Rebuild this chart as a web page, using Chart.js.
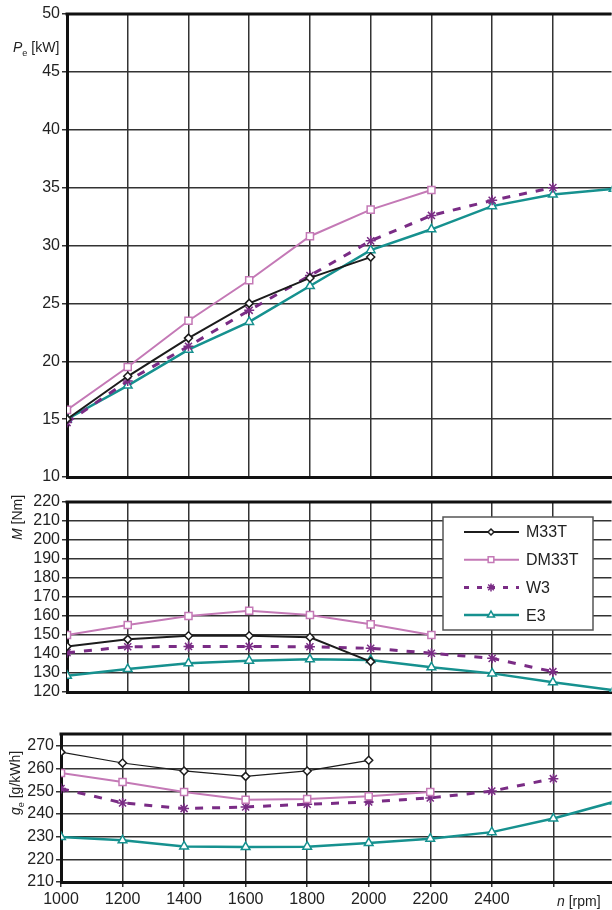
<!DOCTYPE html>
<html>
<head>
<meta charset="utf-8">
<script src="https://cdn.jsdelivr.net/npm/chart.js@4.4.0/dist/chart.umd.min.js"></script>
<style>
  body { margin: 0; background: #fff; }
  #wrap { position: relative; width: 612px; height: 910px; overflow: hidden; }
  canvas { position: absolute; left: 0; }
</style>
</head>
<body>
<div id="wrap">
  <canvas id="power" width="618" height="490" style="top:0"></canvas>
  <canvas id="torque" width="618" height="220" style="top:490px"></canvas>
  <canvas id="fuel" width="618" height="200" style="top:710px"></canvas>
</div>
<script>
// engine speed n [rpm]
const rpm = [1000, 1200, 1400, 1600, 1800, 2000, 2200, 2400, 2600, 2800];
const rpmTicks = [1000, 1200, 1400, 1600, 1800, 2000, 2200, 2400, 2600];
const names = ['M33T', 'DM33T', 'W3', 'E3'];

// effective power Pe [kW]
const peTicks = [10, 15, 20, 25, 30, 35, 40, 45, 50];
const peM33T  = [15.0, 18.7, 22.0, 25.0, 27.2, 29.0];
const peDM33T = [15.8, 19.5, 23.5, 27.0, 30.8, 33.1, 34.8];
const peW3    = [14.7, 18.3, 21.3, 24.4, 27.4, 30.4, 32.6, 33.9, 35.0];
const peE3    = [15.0, 17.9, 21.0, 23.4, 26.5, 29.6, 31.4, 33.4, 34.4, 34.9];

// torque M [Nm]
const mTicks = [120, 130, 140, 150, 160, 170, 180, 190, 200, 210, 220];
const mM33T  = [144.0, 147.7, 149.6, 149.6, 148.8, 136.0];
const mDM33T = [150.0, 155.3, 160.0, 162.8, 160.5, 155.6, 150.0];
const mW3    = [140.7, 143.8, 144.0, 144.0, 143.8, 143.0, 140.4, 137.7, 130.7];
const mE3    = [128.6, 132.1, 135.1, 136.5, 137.2, 136.8, 133.0, 129.8, 125.1, 121.0];

// specific fuel consumption ge [g/kWh]
const gTicks = [210, 220, 230, 240, 250, 260, 270];
const gM33T  = [267.3, 262.5, 259.0, 256.6, 259.0, 263.7];
const gDM33T = [258.1, 254.1, 249.7, 246.3, 246.6, 247.8, 249.7];
const gW3    = [251.2, 244.9, 242.4, 243.1, 244.3, 245.3, 247.1, 250.1, 255.6];
const gE3    = [229.9, 228.4, 225.7, 225.4, 225.6, 227.2, 229.1, 232.0, 238.0, 245.5];

const styles = [
  { color: '#1c1c1c', pointStyle: 'rectRot', radius: 4, width: 2, dash: [] },
  { color: '#c479b6', pointStyle: 'rect', radius: 5, width: 2, dash: [] },
  { color: '#7a2c85', pointStyle: 'star', radius: 5, width: 3, dash: [8, 9] },
  { color: '#16918f', pointStyle: 'triangle', radius: 5, width: 2.5, dash: [] }
];

const font = 'Liberation Sans, Arial, sans-serif';

function series(values, i, lineWidth) {
  const s = styles[i];
  return {
    label: names[i],
    data: values.map((v, k) => ({ x: rpm[k], y: v })),
    borderColor: s.color,
    borderWidth: lineWidth || s.width,
    borderDash: s.dash,
    pointStyle: s.pointStyle,
    pointRadius: s.radius,
    pointBorderWidth: 1.5,
    pointBorderColor: s.color,
    pointBackgroundColor: '#fff',
    tension: 0
  };
}

// draws a text made of parts (italic / subscript), optionally rotated
function drawParts(ctx, x, y, rot, size, parts) {
  ctx.save();
  ctx.translate(x, y);
  ctx.rotate(rot);
  ctx.fillStyle = '#222';
  ctx.textBaseline = 'alphabetic';
  ctx.textAlign = 'left';
  let cx = 0;
  parts.forEach(p => {
    const fs = p.sub ? size * 0.65 : size;
    ctx.font = (p.italic ? 'italic ' : '') + fs + 'px ' + font;
    ctx.fillText(p.t, cx, p.sub ? size * 0.25 : 0);
    cx += ctx.measureText(p.t).width;
  });
  ctx.restore();
}

function framePlugin(titleFn) {
  return {
    id: 'frame',
    afterDraw(chart) {
      const ctx = chart.ctx, a = chart.chartArea;
      ctx.save();
      ctx.strokeStyle = '#111';
      ctx.lineWidth = 3;
      ctx.beginPath();
      ctx.moveTo(a.left - 1.5, a.top);
      ctx.lineTo(a.right, a.top);
      ctx.stroke();
      ctx.restore();
      titleFn(ctx, chart);
    }
  };
}

const legendPlugin = {
  id: 'boxLegend',
  afterDraw(chart) {
    const ctx = chart.ctx;
    const top = 517 - 490;
    ctx.save();
    ctx.fillStyle = '#fff';
    ctx.fillRect(443, top, 150, 113);
    ctx.strokeStyle = '#555';
    ctx.lineWidth = 1.5;
    ctx.strokeRect(443, top, 150, 113);
    chart.data.datasets.forEach((ds, i) => {
      const y = top + 15 + i * 27.7;
      ctx.strokeStyle = ds.borderColor;
      ctx.lineWidth = ds.borderWidth;
      ctx.setLineDash(i === 2 ? [5, 8] : []);
      ctx.beginPath();
      ctx.moveTo(464, y);
      ctx.lineTo(519, y);
      ctx.stroke();
      ctx.setLineDash([]);
      ctx.fillStyle = '#fff';
      ctx.strokeStyle = ds.borderColor;
      ctx.lineWidth = 1.5;
      Chart.helpers.drawPoint(ctx, { pointStyle: ds.pointStyle, radius: ds.pointRadius - 1, rotation: 0, borderWidth: 1.5 }, 491, y);
      ctx.fillStyle = '#222';
      ctx.font = '16px ' + font;
      ctx.textBaseline = 'middle';
      ctx.fillText(ds.label, 526, y + 1);
    });
    ctx.restore();
  }
};

function makeChart(id, cfg) {
  return new Chart(document.getElementById(id), {
    type: 'line',
    data: { datasets: cfg.datasets },
    options: {
      responsive: false,
      animation: false,
      devicePixelRatio: 1,
      layout: { padding: { top: cfg.padTop, bottom: cfg.padBottom, left: 0, right: 0 } },
      plugins: { legend: { display: false }, tooltip: { enabled: false } },
      scales: {
        x: {
          type: 'linear',
          min: 1000,
          max: cfg.xMax,
          afterBuildTicks: s => { s.ticks = rpmTicks.map(v => ({ value: v })); },
          afterFit: s => { s.height = cfg.xHeight; },
          border: { display: true, width: 3, color: '#111' },
          grid: { color: '#333', lineWidth: 1.5, drawTicks: cfg.showX, tickLength: 5, tickColor: '#333' },
          ticks: {
            display: cfg.showX,
            padding: 3,
            color: '#222',
            font: { family: font, size: 16 },
            maxRotation: 0,
            autoSkip: false,
            callback: v => (v === 2600 ? '' : v)
          }
        },
        y: {
          min: cfg.yMin,
          max: cfg.yMax,
          afterBuildTicks: s => { s.ticks = cfg.yTicks.map(v => ({ value: v })); },
          afterFit: s => { s.width = cfg.left; },
          border: { display: true, width: 3, color: '#111' },
          grid: { color: '#333', lineWidth: 1.5, tickLength: 5, tickColor: '#333' },
          ticks: {
            autoSkip: false,
            padding: 2,
            color: '#222',
            font: { family: font, size: 16 }
          }
        }
      }
    },
    plugins: cfg.plugins
  });
}

makeChart('power', {
  datasets: [series(peM33T, 0), series(peDM33T, 1), series(peW3, 2), series(peE3, 3)],
  padTop: 14, padBottom: 13, xHeight: 0, showX: false, left: 67,
  xMax: 2793, yMin: 10, yMax: 50, yTicks: peTicks,
  plugins: [framePlugin(ctx => {
    drawParts(ctx, 13, 52, 0, 14, [{ t: 'P', italic: true }, { t: 'e', sub: true }, { t: ' [kW]' }]);
  })]
});

makeChart('torque', {
  datasets: [series(mM33T, 0), series(mDM33T, 1), series(mW3, 2), series(mE3, 3)],
  padTop: 12, padBottom: 18, xHeight: 0, showX: false, left: 67,
  xMax: 2793, yMin: 120, yMax: 220, yTicks: mTicks,
  plugins: [framePlugin(ctx => {
    drawParts(ctx, 22, 540 - 490, -Math.PI / 2, 14, [{ t: 'M', italic: true }, { t: ' [Nm]' }]);
  }), legendPlugin]
});

makeChart('fuel', {
  datasets: [series(gM33T, 0, 1.2), series(gDM33T, 1), series(gW3, 2), series(gE3, 3)],
  padTop: 24, padBottom: 0, xHeight: 28, showX: true, left: 61,
  xMax: 2789, yMin: 210, yMax: 275.3, yTicks: gTicks,
  plugins: [framePlugin(ctx => {
    drawParts(ctx, 20, 815 - 710, -Math.PI / 2, 14, [{ t: 'g', italic: true }, { t: 'e', sub: true }, { t: ' [g/kWh]' }]);
    drawParts(ctx, 557, 906 - 710, 0, 14, [{ t: 'n', italic: true }, { t: ' [rpm]' }]);
  })]
});
</script>
</body>
</html>
